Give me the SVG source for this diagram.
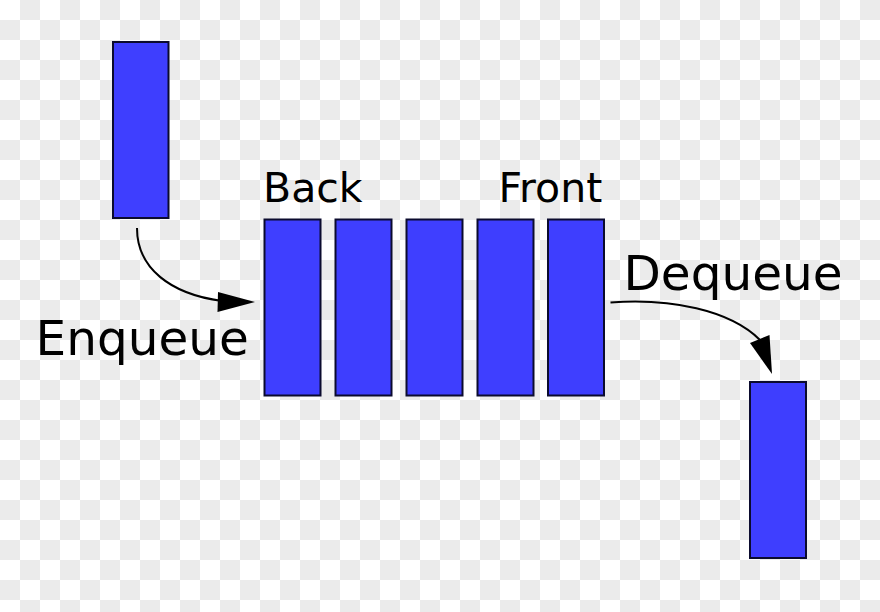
<svg xmlns="http://www.w3.org/2000/svg" width="880" height="612" viewBox="0 0 880 612">
  <defs>
    <pattern id="checker" x="0" y="0" width="40" height="40" patternUnits="userSpaceOnUse">
      <rect x="0" y="0" width="40" height="40" fill="#ffffff"/>
      <rect x="20" y="0" width="20" height="20" fill="#ebebeb"/>
      <rect x="0" y="20" width="20" height="20" fill="#ebebeb"/>
    </pattern>
    <style>
      .box { fill: #3333ff; fill-opacity: 0.94; stroke: #0b0b2e; stroke-width: 2; }
      .lbl { font-family: "DejaVu Sans", "Liberation Sans", sans-serif; fill: #000000; }
      .small { font-size: 41px; }
      .big { font-size: 48.5px; }
      .conn { fill: none; stroke: #000000; stroke-width: 2; }
      .head { fill: #000000; stroke: none; }
    </style>
  </defs>

  <rect x="0" y="0" width="880" height="612" fill="url(#checker)"/>

  <g id="incoming">
    <rect class="box" x="113" y="42" width="55.5" height="176"/>
  </g>
  <g id="queue">
    <rect class="box" x="264.5" y="219.5" width="56" height="176"/>
    <rect class="box" x="335.5" y="219.5" width="56" height="176"/>
    <rect class="box" x="406.5" y="219.5" width="56" height="176"/>
    <rect class="box" x="477.5" y="219.5" width="56" height="176"/>
    <rect class="box" x="548" y="219.5" width="56" height="176"/>
  </g>
  <g id="outgoing">
    <rect class="box" x="750" y="382" width="56" height="176"/>
  </g>

  <g id="label-back"><text class="lbl small" x="263" y="202">Back</text></g>
  <g id="label-front"><text class="lbl small" x="498.5" y="202">Front</text></g>
  <g id="label-enqueue"><text class="lbl big" x="35.5" y="354.5">Enqueue</text></g>
  <g id="label-dequeue"><text class="lbl big" x="623.5" y="290">Dequeue</text></g>

  <g id="connectors">
    <path class="conn" d="M137,228 C137,268 170,294 222,301"/>
    <polygon class="head" points="255,302 218,292 217.5,312"/>
    <path class="conn" d="M610.5,302.5 C670,298 730,310 760,340"/>
    <polygon class="head" points="772,374 750,343 769.5,335"/>
  </g>
</svg>
